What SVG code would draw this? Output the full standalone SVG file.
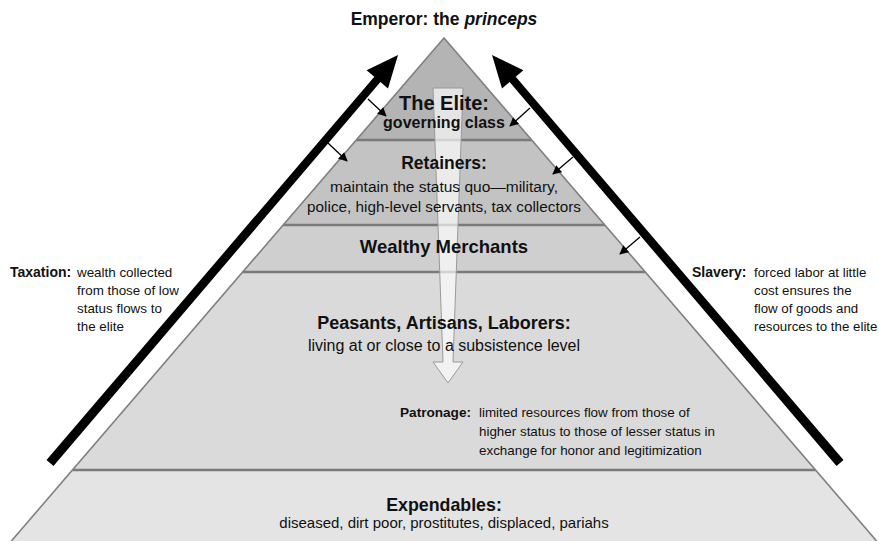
<svg xmlns="http://www.w3.org/2000/svg" width="879" height="541" viewBox="0 0 879 541">
<defs>
<style>
text{font-family:"Liberation Sans",Arial,sans-serif;fill:#111}
.b{font-weight:bold}
.c{text-anchor:middle}
.sep{stroke:#7a7a7a;stroke-width:2.5;fill:none}
.edge{stroke:#808080;stroke-width:1.6;fill:none;stroke-linejoin:miter}
.thin{stroke:#000;stroke-width:1.3;fill:none;marker-end:url(#ah)}
.thick{fill:#000}
</style>
<marker id="ah" viewBox="0 0 10 10" refX="9" refY="5" markerWidth="11" markerHeight="9" markerUnits="userSpaceOnUse" orient="auto">
<path d="M0,0 L10,5 L0,10 Z" fill="#000"/>
</marker>
</defs>
<rect width="879" height="541" fill="#fff"/>

<g id="band-elite"><polygon points="444,38 356.3,140 531.7,140" fill="#b4b4b4"/></g>
<g id="band-retainers"><polygon points="356.3,140 531.7,140 604.8,225 283.2,225" fill="#c3c3c3"/></g>
<g id="band-merchants"><polygon points="283.2,225 604.8,225 645.2,272 242.8,272" fill="#cfcfcf"/></g>
<g id="band-peasants"><polygon points="242.8,272 645.2,272 815.5,470 72.5,470" fill="#dadada"/></g>
<g id="band-expendables"><polygon points="72.5,470 815.5,470 876.6,541 11.4,541" fill="#e4e4e4"/></g>

<g id="separators">
<line class="sep" x1="356.3" y1="140" x2="531.7" y2="140"/>
<line class="sep" x1="283.2" y1="225" x2="604.8" y2="225"/>
<line class="sep" x1="242.8" y1="272" x2="645.2" y2="272"/>
<line class="sep" x1="72.5" y1="470" x2="815.5" y2="470"/>
<polyline class="edge" points="11.4,541 444,38 876.6,541"/>
</g>

<g id="patronage-arrow">
<polygon points="433,88 463,88 453,362 463,362 448,383 433,362 443,362" fill="#fff" fill-opacity="0.66" stroke="#999" stroke-width="1"/>
</g>

<g id="connectors">
<polygon class="thick" points="46.5,460 374.3,76.8 366.6,70.3 398,55 388,88.5 380.4,82 53.5,466"/>
<polygon class="thick" points="843.5,460 515.7,76.8 523.4,70.3 492,55 502,88.5 509.6,82 836.5,466"/>
<line class="thin" x1="368" y1="99" x2="386" y2="116"/>
<line class="thin" x1="328" y1="143" x2="347" y2="161"/>
<line class="thin" x1="530" y1="108" x2="510" y2="126"/>
<line class="thin" x1="573" y1="157" x2="553" y2="174"/>
<line class="thin" x1="640" y1="237" x2="620" y2="254"/>
</g>

<g id="emperor"><text class="b c" x="444" y="25" font-size="17.5">Emperor: the <tspan font-style="italic">princeps</tspan></text></g>

<g id="elite">
<text class="b c" x="444" y="110" font-size="20">The Elite:</text>
<text class="b c" x="444" y="128" font-size="16">governing class</text>
</g>
<g id="retainers">
<text class="b c" x="444" y="169" font-size="17.5">Retainers:</text>
<text class="c" x="444" y="192" font-size="15.5">maintain the status quo—military,</text>
<text class="c" x="444" y="212" font-size="15.3">police, high-level servants, tax collectors</text>
</g>
<g id="merchants"><text class="b c" x="444" y="253" font-size="18.5">Wealthy Merchants</text></g>
<g id="peasants">
<text class="b c" x="444" y="329" font-size="18">Peasants, Artisans, Laborers:</text>
<text class="c" x="444" y="351" font-size="16">living at or close to a subsistence level</text>
</g>
<g id="patronage">
<text class="b" x="400" y="417" font-size="13.6">Patronage:</text>
<text x="479" y="417" font-size="13.4">limited resources flow from those of</text>
<text x="479" y="436" font-size="13.4">higher status to those of lesser status in</text>
<text x="479" y="455" font-size="13.4">exchange for honor and legitimization</text>
</g>
<g id="expendables">
<text class="b c" x="444" y="511" font-size="17.8">Expendables:</text>
<text class="c" x="444" y="528" font-size="15">diseased, dirt poor, prostitutes, displaced, pariahs</text>
</g>
<g id="taxation">
<text class="b" x="10" y="277" font-size="14">Taxation:</text>
<text x="77" y="277" font-size="13.4">wealth collected</text>
<text x="77" y="295" font-size="13.4">from those of low</text>
<text x="77" y="313" font-size="13.4">status flows to</text>
<text x="77" y="331" font-size="13.4">the elite</text>
</g>
<g id="slavery">
<text class="b" x="692" y="277" font-size="14">Slavery:</text>
<text x="754" y="277" font-size="13.3">forced labor at little</text>
<text x="754" y="295" font-size="13.3">cost ensures the</text>
<text x="754" y="313" font-size="13.3">flow of goods and</text>
<text x="754" y="331" font-size="13.3">resources to the elite</text>
</g>
</svg>
